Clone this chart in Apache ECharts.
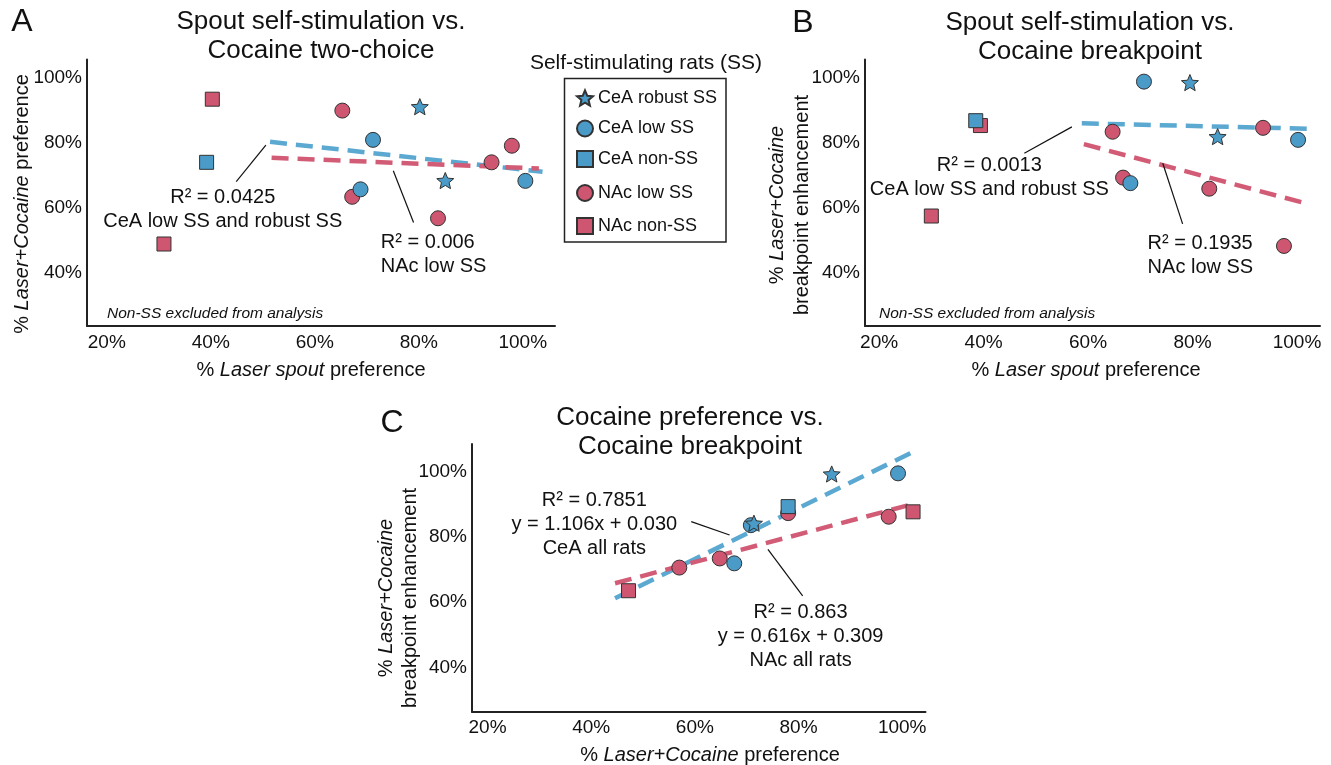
<!DOCTYPE html>
<html><head><meta charset="utf-8">
<script src="https://cdn.jsdelivr.net/npm/echarts@6/dist/echarts.min.js"></script>
<style>html,body{margin:0;padding:0;background:#fff}#c{width:1331px;height:765px}</style>
</head><body><div id="c"></div>
<script>
// ---------------- DATA (in %) ----------------
const xTickValues = [20, 40, 60, 80, 100];
const yTickValues = [40, 60, 80, 100];
const groupNames = ['CeA robust SS', 'CeA low SS', 'CeA non-SS', 'NAc low SS', 'NAc non-SS'];

// Panel A: Spout self-stimulation vs. Cocaine two-choice  [x, y]
const A_ceaRobust = [[80.2, 91.0], [85.1, 68.3]];
const A_ceaLow    = [[71.2, 80.8], [100.5, 68.2], [68.8, 65.6]];
const A_ceaNon    = [[39.2, 73.9]];
const A_nacLow    = [[65.3, 89.8], [97.9, 79.0], [94.0, 73.9], [67.2, 63.3], [83.7, 56.7]];
const A_nacNon    = [[40.3, 93.3], [31.0, 48.8]];
const A_fitCeA    = [[51.4, 80.2], [103.8, 71.0]];
const A_fitNAc    = [[51.7, 75.3], [103.1, 72.0]];

// Panel B: Spout self-stimulation vs. Cocaine breakpoint
const B_ceaRobust = [[79.5, 98.4], [84.8, 81.8]];
const B_ceaLow    = [[70.7, 98.7], [100.2, 80.8], [68.1, 67.5]];
const B_ceaNon    = [[38.5, 86.7]];
const B_nacLow    = [[64.7, 83.3], [93.5, 84.5], [66.7, 69.2], [83.2, 65.8], [97.5, 48.2]];
const B_nacNon    = [[39.4, 85.2], [30.0, 57.4]];
const B_fitCeA    = [[58.8, 85.9], [103.0, 84.2]];
const B_fitNAc    = [[59.2, 79.5], [102.1, 61.1]];

// Panel C: Cocaine preference vs. Cocaine breakpoint
const C_ceaRobust = [[86.4, 99.3], [71.4, 84.2]];
const C_ceaLow    = [[99.2, 99.5], [70.8, 83.6], [67.6, 71.9]];
const C_ceaNon    = [[78.0, 89.3]];
const C_nacLow    = [[78.0, 87.3], [97.4, 86.2], [64.8, 73.4], [57.0, 70.6]];
const C_nacNon    = [[102.1, 87.7], [47.2, 63.5]];
const C_fitCeA    = [[44.6, 61.2], [103.0, 106.8]];
const C_fitNAc    = [[44.6, 65.8], [102.6, 90.3]];

// ---------------- LAYOUT / STYLE ----------------
const FONT = '"Liberation Sans", Arial, Helvetica, sans-serif';
const BLUE = '#4a9bc8', RED = '#cf5670', BLUE_L = '#5ba8d1', RED_L = '#d25c76';
const INK = '#111';
function starPath() {
  let s = 'path://';
  for (let k = 0; k < 10; k++) {
    const r = (k % 2) ? 0.45 : 1;
    const a = -Math.PI / 2 + k * Math.PI / 5;
    s += (k ? 'L' : 'M') + (50 + 50 * r * Math.cos(a)).toFixed(2) + ' ' + (50 + 50 * r * Math.sin(a)).toFixed(2) + ' ';
  }
  return s + 'Z';
}
const STAR = starPath();

const gridsLayout = [
  { left: 87, top: 59.5, width: 468, height: 266.5 },
  { left: 865, top: 59.5, width: 455, height: 266.5 },
  { left: 472, top: 444, width: 453.5, height: 267.7 }
];
const xRanges = [[16.2, 106.2], [17.3, 104.4], [17.0, 104.5]];
const yRanges = [[23.6, 105.5], [23.6, 105.5], [26.4, 108.5]];

const panels = [
  { ceaRobust: A_ceaRobust, ceaLow: A_ceaLow, ceaNon: A_ceaNon, nacLow: A_nacLow, nacNon: A_nacNon, fitCeA: A_fitCeA, fitNAc: A_fitNAc },
  { ceaRobust: B_ceaRobust, ceaLow: B_ceaLow, ceaNon: B_ceaNon, nacLow: B_nacLow, nacNon: B_nacNon, fitCeA: B_fitCeA, fitNAc: B_fitNAc },
  { ceaRobust: C_ceaRobust, ceaLow: C_ceaLow, ceaNon: C_ceaNon, nacLow: C_nacLow, nacNon: C_nacNon, fitCeA: C_fitCeA, fitNAc: C_fitNAc }
];

const axisLine = { show: true, onZero: false, lineStyle: { color: '#222', width: 2 } };
const xAxes = xRanges.map((r, i) => ({
  type: 'value', gridIndex: i, min: r[0], max: r[1],
  axisLine, axisTick: { show: false }, splitLine: { show: false },
  axisLabel: { customValues: xTickValues, formatter: v => v + '%', fontSize: 19, color: INK, fontFamily: FONT, margin: 7 }
}));
const yAxes = yRanges.map((r, i) => ({
  type: 'value', gridIndex: i, min: r[0], max: r[1],
  axisLine, axisTick: { show: false }, splitLine: { show: false },
  axisLabel: { customValues: yTickValues, formatter: v => v + '%', fontSize: 19, color: INK, fontFamily: FONT, margin: 5 }
}));

function fitLine(i, data, color) {
  return { type: 'line', xAxisIndex: i, yAxisIndex: i, data, symbol: 'none', silent: true, z: 1,
    lineStyle: { color, width: 4.5, type: [17, 9] } };
}
function pts(i, name, data, symbol, size, color) {
  return { type: 'scatter', name, xAxisIndex: i, yAxisIndex: i, data, symbol, symbolSize: size, symbolKeepAspect: true, z: 3,
    itemStyle: { color, borderColor: '#333', borderWidth: 1, opacity: 1 } };
}
const series = [];
panels.forEach((p, i) => {
  series.push(fitLine(i, p.fitCeA, BLUE_L));
  series.push(fitLine(i, p.fitNAc, RED_L));
  series.push(pts(i, groupNames[3], p.nacLow, 'circle', 15, RED));
  series.push(pts(i, groupNames[4], p.nacNon, 'rect', 14, RED));
  series.push(pts(i, groupNames[1], p.ceaLow, 'circle', 15, BLUE));
  series.push(pts(i, groupNames[2], p.ceaNon, 'rect', 14, BLUE));
  series.push(pts(i, groupNames[0], p.ceaRobust, STAR, 17, BLUE));
});

const legendCommon = { orient: 'vertical', padding: 0, itemWidth: 16, itemHeight: 16, selectedMode: false,
  textStyle: { fontSize: 18, color: INK, fontFamily: FONT } };

const rich = (fs) => ({
  n: { fontSize: fs, fontFamily: FONT, fill: INK },
  i: { fontSize: fs, fontFamily: FONT, fontStyle: 'italic', fill: INK }
});
function txt(x, y, text, fs, opts) {
  opts = opts || {};
  return { type: 'text', x, y, rotation: opts.rot || 0, silent: true, z: 10,
    style: { text, fontSize: fs, fontFamily: FONT, fill: INK, align: opts.align || 'center', verticalAlign: 'middle',
      lineHeight: opts.lh || fs * 1.2, fontStyle: opts.italic ? 'italic' : 'normal', rich: rich(fs) } };
}

const staticGraphics = [
  txt(22, 22, 'A', 32), txt(803, 23, 'B', 32), txt(392, 423, 'C', 32),
  txt(321, 36, 'Spout self-stimulation vs.\nCocaine two-choice', 26, { lh: 29 }),
  txt(1090, 37, 'Spout self-stimulation vs.\nCocaine breakpoint', 26, { lh: 29 }),
  txt(690, 432, 'Cocaine preference vs.\nCocaine breakpoint', 26, { lh: 29 }),
  txt(311, 370, '{n|% }{i|Laser spout}{n| preference}', 20),
  txt(1086, 370, '{n|% }{i|Laser spout}{n| preference}', 20),
  txt(710, 755, '{n|% }{i|Laser+Cocaine}{n| preference}', 20),
  txt(22, 204, '{n|% }{i|Laser+Cocaine}{n| preference}', 20, { rot: Math.PI / 2 }),
  txt(790, 205, '{n|% }{i|Laser+Cocaine}\n{n|breakpoint enhancement}', 20, { rot: Math.PI / 2, lh: 25 }),
  txt(398, 598, '{n|% }{i|Laser+Cocaine}\n{n|breakpoint enhancement}', 20, { rot: Math.PI / 2, lh: 24 }),
  txt(107, 314, 'Non-SS excluded from analysis', 15.5, { align: 'left', italic: true }),
  txt(879, 314, 'Non-SS excluded from analysis', 15.5, { align: 'left', italic: true }),
  txt(646, 63, 'Self-stimulating rats (SS)', 21),
  { type: 'rect', shape: { x: 564.5, y: 78.5, width: 161.5, height: 163.5 }, silent: true,
    style: { fill: 'none', stroke: '#222', lineWidth: 1.5 } }
];

const chart = echarts.init(document.getElementById('c'));
chart.setOption({
  animation: false,
  backgroundColor: '#fff',
  textStyle: { fontFamily: FONT },
  grid: gridsLayout,
  xAxis: xAxes,
  yAxis: yAxes,
  legend: [
    Object.assign({ left: 576, top: 89, itemGap: 12.5,
      data: [{ name: groupNames[0], icon: STAR }, { name: groupNames[1], icon: 'circle' }, { name: groupNames[2], icon: 'rect' }] }, legendCommon),
    Object.assign({ left: 576, top: 184, itemGap: 15,
      data: [{ name: groupNames[3], icon: 'circle' }, { name: groupNames[4], icon: 'rect' }] }, legendCommon)
  ],
  series,
  graphic: staticGraphics
});

// ---------------- annotations anchored in data space ----------------
const annotations = [
  { g: 0, at: [42.3, 59.5], text: 'R² = 0.0425\nCeA low SS and robust SS', align: 'center' },
  { g: 0, at: [72.7, 45.5], text: 'R² = 0.006\nNAc low SS', align: 'left' },
  { g: 1, at: [41.1, 69.1], text: 'R² = 0.0013\nCeA low SS and robust SS', align: 'center' },
  { g: 1, at: [71.4, 45.3], text: 'R² = 0.1935\nNAc low SS', align: 'left' },
  { g: 2, at: [40.6, 83.8], text: 'R² = 0.7851\ny = 1.106x + 0.030\nCeA all rats', align: 'center' },
  { g: 2, at: [80.4, 49.6], text: 'R² = 0.863\ny = 0.616x + 0.309\nNAc all rats', align: 'center' }
];
const leaders = [
  { g: 0, a: [50.6, 79.2], b: [44.9, 68.0] },
  { g: 0, a: [75.1, 71.3], b: [79.0, 55.4] },
  { g: 1, a: [56.9, 84.8], b: [47.8, 76.7] },
  { g: 1, a: [74.3, 73.6], b: [78.1, 55.0] },
  { g: 2, a: [59.3, 84.7], b: [66.7, 80.6] },
  { g: 2, a: [74.1, 76.2], b: [80.8, 61.9] }
];
const px = (g, p) => chart.convertToPixel({ gridIndex: g }, p);
const dyn = [];
annotations.forEach(a => {
  const p = px(a.g, a.at);
  dyn.push(txt(p[0], p[1], a.text, 20, { align: a.align, lh: 24 }));
});
leaders.forEach(l => {
  const p1 = px(l.g, l.a), p2 = px(l.g, l.b);
  dyn.push({ type: 'line', silent: true, z: 9, shape: { x1: p1[0], y1: p1[1], x2: p2[0], y2: p2[1] },
    style: { stroke: '#111', lineWidth: 1.2 } });
});
chart.setOption({ graphic: staticGraphics.concat(dyn) });
</script>
</body></html>
